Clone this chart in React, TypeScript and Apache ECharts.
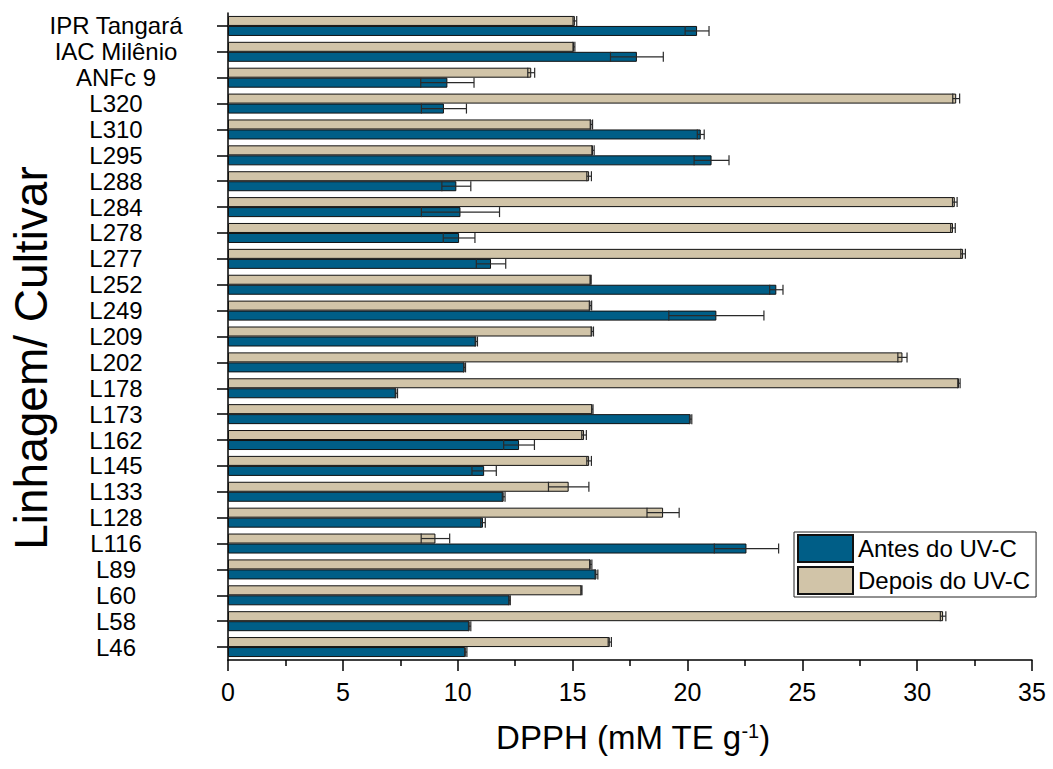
import React, { useEffect, useRef } from "react";
import * as echarts from "echarts";

const categories = [
  "L46", "L58", "L60", "L89", "L116", "L128", "L133", "L145", "L162", "L173",
  "L178", "L202", "L209", "L249", "L252", "L277", "L278", "L284", "L288", "L295",
  "L310", "L320", "ANFc 9", "IAC Milênio", "IPR Tangará",
];

const antes = [
  10.35, 10.52, 12.26, 16.04, 22.57, 11.1, 12.0, 11.15, 12.67, 20.14,
  7.33, 10.3, 10.81, 21.26, 23.87, 11.45, 10.06, 10.12, 9.94, 21.05,
  20.58, 9.4, 9.55, 17.8, 20.42,
];
const antesErr = [
  0.05, 0.05, 0.03, 0.06, 1.4, 0.1, 0.06, 0.53, 0.67, 0.05,
  0.05, 0.04, 0.05, 2.07, 0.29, 0.64, 0.69, 1.7, 0.63, 0.76,
  0.15, 0.98, 1.16, 1.15, 0.52,
];
const depois = [
  16.62, 31.13, 15.39, 15.79, 9.03, 18.94, 14.83, 15.72, 15.5, 15.86,
  31.82, 29.36, 15.86, 15.78, 15.79, 32.0, 31.56, 31.64, 15.72, 15.89,
  15.82, 31.7, 13.2, 15.06, 15.1,
];
const depoisErr = [
  0.07, 0.12, 0.02, 0.05, 0.62, 0.7, 0.88, 0.1, 0.1, 0.03,
  0.05, 0.2, 0.05, 0.05, 0.02, 0.1, 0.1, 0.1, 0.1, 0.05,
  0.05, 0.15, 0.15, 0.04, 0.08,
];

const xTicks = [0, 5, 10, 15, 20, 25, 30, 35];

const FONT = "'Liberation Sans', Arial, sans-serif";
const BLUE = "#005e87";
const TAN = "#d1c4a8";

function errorSeries(vals: number[], errs: number[], offset: number) {
  return {
    type: "custom",
    z: 10,
    silent: true,
    encode: { x: [1, 2], y: 0 },
    data: vals.map((v, i) => [i, v - errs[i], v + errs[i]]),
    renderItem: (params: any, api: any) => {
      const idx = api.value(0);
      const lo = api.coord([api.value(1), idx]);
      const hi = api.coord([api.value(2), idx]);
      const y = lo[1] + offset;
      const h = 5;
      const style = { stroke: "#2a2a2a", lineWidth: 1.2 };
      return {
        type: "group",
        children: [
          { type: "line", shape: { x1: lo[0], y1: y, x2: hi[0], y2: y }, style },
          { type: "line", shape: { x1: lo[0], y1: y - h, x2: lo[0], y2: y + h }, style },
          { type: "line", shape: { x1: hi[0], y1: y - h, x2: hi[0], y2: y + h }, style },
        ],
      };
    },
  };
}

export default function App() {
  const ref = useRef<HTMLDivElement>(null);
  useEffect(() => {
    if (!ref.current) return;
    const chart = echarts.init(ref.current, undefined, { renderer: "svg" });
    chart.setOption({
      animation: false,
      backgroundColor: "#ffffff",
      textStyle: { fontFamily: FONT },
      grid: { left: 228, right: 21, top: 13, bottom: 109, containLabel: false },
      legend: {
        data: ["Antes do UV-C", "Depois do UV-C"],
        orient: "vertical",
        left: 794,
        top: 532,
        padding: [2, 6, 2, 3],
        itemWidth: 55,
        itemHeight: 27,
        itemGap: 3,
        icon: "rect",
        borderColor: "#222",
        borderWidth: 1,
        backgroundColor: "#fff",
        textStyle: { fontSize: 24, color: "#000", fontFamily: FONT },
        selectedMode: false,
      },
      xAxis: {
        type: "value",
        min: 0,
        max: 35,
        interval: 5,
        axisLine: { show: true, lineStyle: { color: "#000", width: 1.5 } },
        axisTick: { show: true, length: 11, lineStyle: { color: "#000", width: 1.5 } },
        minorTick: { show: true, splitNumber: 2, length: 6, lineStyle: { color: "#000", width: 1.5 } },
        splitLine: { show: false },
        axisLabel: {
          fontSize: 25,
          color: "#000",
          margin: 19,
          fontFamily: FONT,
          formatter: (v: number) => (xTicks.includes(v) ? String(v) : ""),
        },
      },
      yAxis: {
        type: "category",
        data: categories,
        axisLine: { show: true, lineStyle: { color: "#000", width: 1.5 } },
        axisTick: { show: true, alignWithLabel: true, length: 11, lineStyle: { color: "#000", width: 1.5 } },
        axisLabel: {
          fontSize: 24,
          lineHeight: 24,
          color: "#000",
          align: "center",
          margin: 112,
          fontFamily: FONT,
          interval: 0,
        },
        splitLine: { show: false },
      },
      graphic: [
        {
          type: "text",
          x: 31,
          y: 358,
          rotation: Math.PI / 2,
          style: {
            text: "Linhagem/ Cultivar",
            fontSize: 46,
            fontFamily: FONT,
            fill: "#000",
            textAlign: "center",
            textVerticalAlign: "middle",
          },
        },
        {
          type: "text",
          x: 633,
          y: 737,
          style: {
            text: "DPPH (mM TE g{sup|-1})",
            fontSize: 33,
            fontFamily: FONT,
            fill: "#000",
            textAlign: "center",
            textVerticalAlign: "middle",
            rich: {
              sup: { fontSize: 20, verticalAlign: "top", fontFamily: FONT, fill: "#000" },
            },
          },
        },
      ],
      series: [
        {
          name: "Depois do UV-C",
          type: "bar",
          data: depois,
          barWidth: 10,
          barGap: "0%",
          itemStyle: { color: TAN, borderColor: "#111", borderWidth: 1 },
        },
        {
          name: "Antes do UV-C",
          type: "bar",
          data: antes,
          barWidth: 10,
          barGap: "0%",
          itemStyle: { color: BLUE, borderColor: "#111", borderWidth: 1 },
        },
        errorSeries(depois, depoisErr, -5),
        errorSeries(antes, antesErr, 5),
      ],
    });
    return () => chart.dispose();
  }, []);
  return (
    <div
      ref={ref}
      style={{ position: "fixed", left: 0, top: 0, width: 1053, height: 769, background: "#fff" }}
    />
  );
}
